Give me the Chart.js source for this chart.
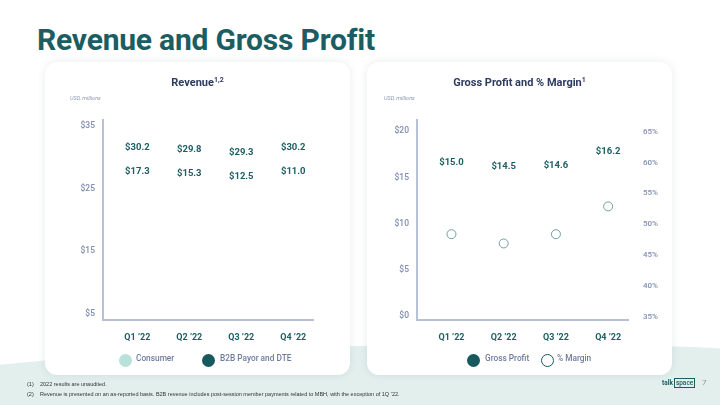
<!DOCTYPE html>
<html>
<head>
<meta charset="utf-8">
<script src="https://cdn.jsdelivr.net/npm/chart.js@4.4.1/dist/chart.umd.min.js"></script>
<style>
  html, body { margin: 0; padding: 0; }
  body { width: 720px; height: 405px; position: relative; overflow: hidden; background: #fff; font-family: Roboto, sans-serif; }
  #mint { position: absolute; left: -60px; top: 346px; width: 840px; height: 140px; background: #e2efed; border-radius: 50% 50% 0 0 / 22px 22px 0 0; transform: rotate(-1.3deg); }
  h1 { position: absolute; left: 37px; top: 22px; margin: 0; font: 700 30px Roboto, sans-serif; color: #1b5d62; letter-spacing: -0.2px; }
  .card { position: absolute; top: 62px; width: 305px; height: 313px; background: #fff; border-radius: 12px; box-shadow: 0 0 8px rgba(40, 60, 80, 0.10); }
  .card canvas { position: absolute; left: 0; top: 0; }
  .ctitle { position: absolute; left: 0; right: 0; top: 14px; text-align: center; font: 700 11px Roboto, sans-serif; color: #2d3b5e; }
  .ctitle sup { font-size: 7px; vertical-align: 4px; line-height: 0; }
  .unit { position: absolute; top: 33px; font: italic 5.5px Roboto, sans-serif; color: #8c98b3; }
  .leg { position: absolute; top: 291px; height: 14px; line-height: 14px; font: 500 8.3px Roboto, sans-serif; color: #6e7c9c; white-space: nowrap; }
  .dot { position: absolute; top: 0.5px; width: 13px; height: 13px; border-radius: 50%; box-sizing: border-box; }
  .foot { position: absolute; font: 5.5px "Liberation Sans", Arial, sans-serif; color: #333; white-space: nowrap; }
  #logo { position: absolute; left: 662px; top: 379px; font: 700 6.5px Roboto, sans-serif; color: #1b5d62; }
  #logo span { border: 1px solid #1b5d62; padding: 0 1px; margin-left: 1px; font-weight: 500; }
  #page { position: absolute; left: 702px; top: 378px; font: 8px Roboto, sans-serif; color: #8a9a9e; }
</style>
</head>
<body>
<div id="mint"></div>
<h1>Revenue and Gross Profit</h1>

<div class="card" style="left:45px">
  <canvas id="revChart" width="305" height="313"></canvas>
  <div class="ctitle">Revenue<sup>1,2</sup></div>
  <div class="unit" style="left:25px">USD, millions</div>
  <div class="leg" style="left:74px"><div class="dot" style="left:0;background:#b9e0d9"></div><span style="margin-left:17px">Consumer</span></div>
  <div class="leg" style="left:157px"><div class="dot" style="left:0;background:#17595f"></div><span style="margin-left:18px">B2B Payor and DTE</span></div>
</div>

<div class="card" style="left:367px">
  <canvas id="gpChart" width="305" height="313"></canvas>
  <div class="ctitle">Gross Profit and % Margin<sup>1</sup></div>
  <div class="unit" style="left:17px">USD, millions</div>
  <div class="leg" style="left:100px"><div class="dot" style="left:0;background:#17595f"></div><span style="margin-left:18px">Gross Profit</span></div>
  <div class="leg" style="left:174px"><div class="dot" style="left:0;border:1.5px solid #17595f;background:#fff"></div><span style="margin-left:16px">% Margin</span></div>
</div>

<div class="foot" style="left:27px;top:381px">(1)</div>
<div class="foot" style="left:40px;top:381px">2022 results are unaudited.</div>
<div class="foot" style="left:27px;top:391px">(2)</div>
<div class="foot" style="left:40px;top:391px">Revenue is presented on an as-reported basis. B2B revenue includes post-session member payments related to MBH, with the exception of 1Q ’22.</div>
<div id="logo">talk<span>space</span></div>
<div id="page">7</div>

<script>
// values
var quarters = ["Q1 ’22", "Q2 ’22", "Q3 ’22", "Q4 ’22"];
var totalRevenue = [30.2, 29.8, 29.3, 30.2];
var consumerRevenue = [17.3, 15.3, 12.5, 11.0];
var b2bRevenue = [12.9, 14.5, 16.8, 19.2];
var grossProfit = [15.0, 14.5, 14.6, 16.2];
var grossMargin = [48.4, 46.9, 48.4, 52.9];
var revenueTicks = [5, 15, 25, 35];
var profitTicks = [0, 5, 10, 15, 20];
var marginTicks = [35, 40, 45, 50, 55, 60, 65];

var teal = '#1d5e61';
var axisGrey = '#b7c1d4';
var tickGrey = '#7f8db0';

function points(values) {
    return values.map((v, i) => ({ x: i, y: v }));
}

// x axis is an index scale so the quarters sit where the slide has them
function quarterAxis() {
    return {
        type: 'linear',
        min: -0.66,
        max: 3.38,
        offset: false,
        stacked: true,
        grid: { display: false, drawTicks: false, offset: false },
        border: { display: true, color: axisGrey, width: 2 },
        afterBuildTicks: s => { s.ticks = quarters.map((q, i) => ({ value: i })); },
        afterFit: s => { s.height = 55; },
        ticks: {
            padding: 12,
            color: teal,
            font: { family: 'Roboto', size: 9, weight: 'bold' },
            callback: v => quarters[v]
        }
    };
}

function drawLabel(ctx, text, x, y) {
    ctx.save();
    ctx.font = 'bold 9.5px Roboto';
    ctx.fillStyle = teal;
    ctx.textAlign = 'center';
    ctx.textBaseline = 'middle';
    ctx.fillText(text, x, y);
    ctx.restore();
}

var revenueLabels = {
    id: 'revenueLabels',
    afterDatasetsDraw(chart) {
        var meta = chart.getDatasetMeta(1);
        meta.data.forEach((bar, i) => {
            drawLabel(chart.ctx, '$' + totalRevenue[i].toFixed(1), bar.x, bar.y - 9);
            drawLabel(chart.ctx, '$' + consumerRevenue[i].toFixed(1), bar.x, bar.y + 15);
        });
    }
};

var profitLabels = {
    id: 'profitLabels',
    afterDatasetsDraw(chart) {
        var meta = chart.getDatasetMeta(0);
        meta.data.forEach((bar, i) => {
            drawLabel(chart.ctx, '$' + grossProfit[i].toFixed(1), bar.x, bar.y - 15);
        });
    }
};

// bars are not visible on the slide, only their labels
new Chart(document.getElementById('revChart'), {
    type: 'bar',
    data: {
        datasets: [
            { label: 'Consumer', data: points(consumerRevenue), backgroundColor: 'rgba(0,0,0,0)' },
            { label: 'B2B Payor and DTE', data: points(b2bRevenue), backgroundColor: 'rgba(0,0,0,0)' }
        ]
    },
    options: {
        responsive: false,
        animation: false,
        layout: { padding: { top: 58, right: 37, left: 0, bottom: 0 } },
        plugins: { legend: { display: false }, tooltip: { enabled: false } },
        scales: {
            x: quarterAxis(),
            y: {
                stacked: true,
                min: 4,
                max: 36,
                grid: { display: false, drawTicks: false },
                border: { display: true, color: axisGrey, width: 2 },
                afterBuildTicks: s => { s.ticks = revenueTicks.map(v => ({ value: v })); },
                afterFit: s => { s.width = 58; },
                ticks: {
                    padding: 8,
                    color: tickGrey,
                    font: { family: 'Roboto', size: 8.5, weight: '500' },
                    callback: v => '$' + v
                }
            }
        }
    },
    plugins: [revenueLabels]
});

new Chart(document.getElementById('gpChart'), {
    type: 'bar',
    data: {
        datasets: [
            { label: 'Gross Profit', data: points(grossProfit), backgroundColor: 'rgba(0,0,0,0)', yAxisID: 'y' },
            {
                type: 'line',
                label: '% Margin',
                data: points(grossMargin),
                yAxisID: 'y2',
                showLine: false,
                pointStyle: 'circle',
                pointRadius: 4.5,
                pointBorderWidth: 1,
                pointBorderColor: '#6f9fa0',
                pointBackgroundColor: '#fff'
            }
        ]
    },
    options: {
        responsive: false,
        animation: false,
        layout: { padding: { top: 58, right: 0, left: 0, bottom: 0 } },
        plugins: { legend: { display: false }, tooltip: { enabled: false } },
        scales: {
            x: quarterAxis(),
            y: {
                position: 'left',
                min: -0.4,
                max: 21.2,
                grid: { display: false, drawTicks: false },
                border: { display: true, color: axisGrey, width: 2 },
                afterBuildTicks: s => { s.ticks = profitTicks.map(v => ({ value: v })); },
                afterFit: s => { s.width = 50; },
                ticks: {
                    padding: 8,
                    color: tickGrey,
                    font: { family: 'Roboto', size: 8.5, weight: '500' },
                    callback: v => '$' + v
                }
            },
            y2: {
                position: 'right',
                min: 34.5,
                max: 66.9,
                grid: { display: false, drawTicks: false },
                border: { display: false },
                afterBuildTicks: s => { s.ticks = marginTicks.map(v => ({ value: v })); },
                afterFit: s => { s.width = 44; },
                ticks: {
                    padding: 15,
                    color: tickGrey,
                    font: { family: 'Roboto', size: 8, weight: '500' },
                    callback: v => v + '%'
                }
            }
        }
    },
    plugins: [profitLabels]
});
</script>
</body>
</html>
